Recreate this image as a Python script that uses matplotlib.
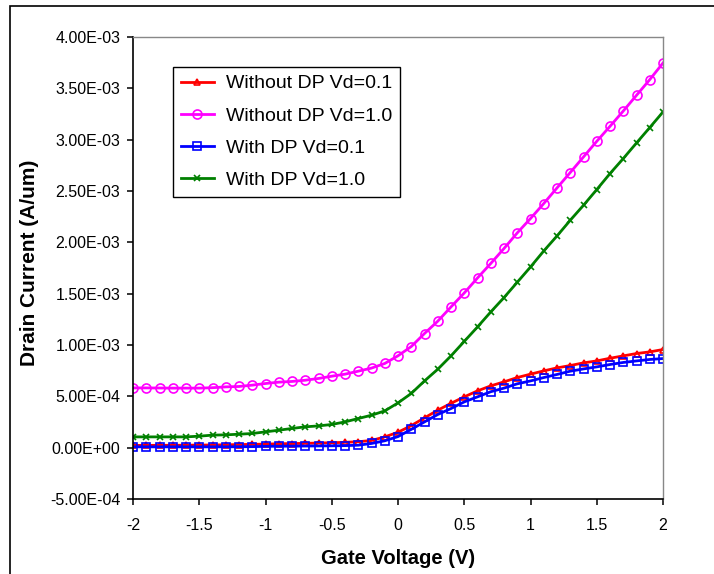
import matplotlib
matplotlib.use("Agg")
import matplotlib.pyplot as plt
import matplotlib.ticker as mticker
from matplotlib.patches import Rectangle

plt.rcParams["font.family"] = ["Liberation Sans", "DejaVu Sans"]

# ── data (drain current in mA/um, i.e. x1e-3 A/um) ───────────────────────────

vg = [-2.0, -1.9, -1.8, -1.7, -1.6, -1.5, -1.4, -1.3, -1.2, -1.1,
      -1.0, -0.9, -0.8, -0.7, -0.6, -0.5, -0.4, -0.3, -0.2, -0.1,
      0.0, 0.1, 0.2, 0.3, 0.4, 0.5, 0.6, 0.7, 0.8, 0.9,
      1.0, 1.1, 1.2, 1.3, 1.4, 1.5, 1.6, 1.7, 1.8, 1.9, 2.0]

no_dp_01 = [0.022, 0.022, 0.023, 0.023, 0.024, 0.025, 0.026, 0.028, 0.030, 0.032,
            0.035, 0.038, 0.040, 0.042, 0.045, 0.048, 0.052, 0.058, 0.070, 0.105,
            0.150, 0.215, 0.290, 0.365, 0.432, 0.495, 0.553, 0.602, 0.641, 0.683,
            0.716, 0.748, 0.777, 0.800, 0.826, 0.845, 0.871, 0.894, 0.917, 0.933, 0.956]

no_dp_10 = [0.582, 0.582, 0.581, 0.580, 0.580, 0.580, 0.584, 0.592, 0.596, 0.609,
            0.625, 0.638, 0.645, 0.657, 0.674, 0.696, 0.716, 0.745, 0.775, 0.820,
            0.895, 0.985, 1.112, 1.232, 1.371, 1.507, 1.653, 1.794, 1.940, 2.092,
            2.232, 2.378, 2.530, 2.680, 2.832, 2.984, 3.130, 3.279, 3.432, 3.585, 3.747]

dp_01 = [0.008, 0.008, 0.008, 0.008, 0.008, 0.008, 0.008, 0.008, 0.009, 0.010,
         0.013, 0.014, 0.015, 0.016, 0.017, 0.018, 0.020, 0.024, 0.041, 0.067,
         0.108, 0.178, 0.251, 0.323, 0.381, 0.446, 0.495, 0.545, 0.580, 0.622,
         0.650, 0.683, 0.713, 0.745, 0.767, 0.787, 0.810, 0.830, 0.845, 0.859, 0.868]

dp_10 = [0.105, 0.105, 0.105, 0.105, 0.105, 0.112, 0.122, 0.125, 0.131, 0.138,
         0.154, 0.170, 0.187, 0.203, 0.212, 0.226, 0.251, 0.284, 0.316, 0.358,
         0.436, 0.528, 0.650, 0.764, 0.894, 1.035, 1.176, 1.322, 1.462, 1.611,
         1.760, 1.916, 2.062, 2.215, 2.361, 2.514, 2.670, 2.816, 2.968, 3.118, 3.270]

labels = ["Without DP Vd=0.1", "Without DP Vd=1.0", "With DP Vd=0.1", "With DP Vd=1.0"]
series = [no_dp_01, no_dp_10, dp_01, dp_10]
colors = ["#FF0000", "#FF00FF", "#0000FF", "#008000"]
markers = ["^", "o", "s", "x"]
msizes = [5, 6.5, 5.5, 5]

yticks = [-5e-4, 0, 5e-4, 1e-3, 1.5e-3, 2e-3, 2.5e-3, 3e-3, 3.5e-3, 4e-3]
xticks = [-2, -1.5, -1, -0.5, 0, 0.5, 1, 1.5, 2]

# ── chart ────────────────────────────────────────────────────────────────────

fig = plt.figure(figsize=(7.14, 5.74), dpi=100)
ax = fig.add_axes([133 / 714, 1 - 499 / 574, 530 / 714, 462 / 574])

for ys, lab, c, m, ms in zip(series, labels, colors, markers, msizes):
    ax.plot(vg, [v * 1e-3 for v in ys], color=c, lw=2, marker=m, ms=ms,
            mfc="none", mec=c, mew=1.2, label=lab)

ax.set_xlim(-2, 2)
ax.set_ylim(-5e-4, 4e-3)
ax.set_xticks(xticks)
ax.set_yticks(yticks)
ax.xaxis.set_major_formatter(mticker.FuncFormatter(lambda v, p: f"{v:g}"))
ax.yaxis.set_major_formatter(mticker.FuncFormatter(lambda v, p: f"{v:.2E}"))
ax.tick_params(direction="out", length=4, width=1.1, labelsize=11.5, pad=5)
ax.tick_params(axis="x", pad=10)

for s in ("top", "right"):
    ax.spines[s].set_color("#888888")
    ax.spines[s].set_linewidth(1)
for s in ("left", "bottom"):
    ax.spines[s].set_color("black")
    ax.spines[s].set_linewidth(1.2)

ax.set_xlabel("Gate Voltage (V)", fontsize=14.5, fontweight="bold")
ax.set_ylabel("Drain Current (A/um)", fontsize=15, fontweight="bold")
ax.xaxis.set_label_coords(0.5, -0.128)
ax.yaxis.set_label_coords((30 - 133) / 530, (499 - 263) / 462)
ax.xaxis.label.set_va("center")
ax.yaxis.label.set_va("center")

leg = ax.legend(loc="upper left", bbox_to_anchor=((173 - 133) / 530, (499 - 67) / 462),
                borderaxespad=0, fontsize=14, handlelength=1.7, handletextpad=0.6,
                labelspacing=0.75, fancybox=False, framealpha=1, borderpad=0.4)
leg.get_frame().set_edgecolor("black")
leg.get_frame().set_linewidth(1)

# outer chart-area border (left and top edges visible)
fig.patches.append(Rectangle((10 / 714, -0.1), 1.2, 1.1 - 6 / 574, transform=fig.transFigure,
                             fill=False, edgecolor="black", lw=1.2))

fig.savefig("out.png", dpi=100)
